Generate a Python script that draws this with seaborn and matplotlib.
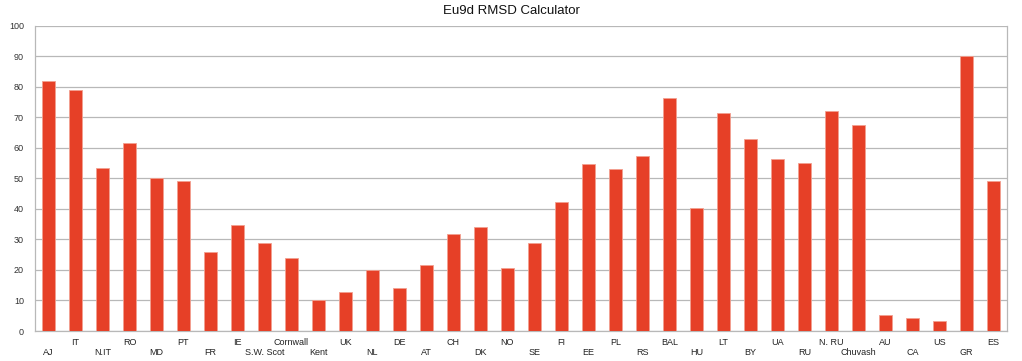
import matplotlib
matplotlib.use("Agg")
import matplotlib.pyplot as plt
import seaborn as sns
import numpy as np
import pandas as pd

categories = ["AJ", "IT", "N.IT", "RO", "MD", "PT", "FR", "IE", "S.W. Scot", "Cornwall",
              "Kent", "UK", "NL", "DE", "AT", "CH", "DK", "NO", "SE", "FI",
              "EE", "PL", "RS", "BAL", "HU", "LT", "BY", "UA", "RU", "N. RU",
              "Chuvash", "AU", "CA", "US", "GR", "ES"]
values = [81.7, 79.0, 53.5, 61.5, 50.0, 49.0, 25.8, 34.8, 28.8, 24.0,
          10.3, 12.7, 20.0, 14.2, 21.7, 31.6, 34.1, 20.7, 28.7, 42.2,
          54.8, 53.1, 57.2, 76.2, 40.4, 71.3, 62.8, 56.2, 54.9, 72.0,
          67.5, 5.3, 4.2, 3.2, 90.0, 49.0]
yticks = [0, 10, 20, 30, 40, 50, 60, 70, 80, 90, 100]
title = "Eu9d RMSD Calculator"

sns.set_style("white")
plt.rcParams['font.family'] = ['Liberation Sans', 'DejaVu Sans']

df = pd.DataFrame({"cat": categories, "val": values})
fig = plt.figure(figsize=(10.22, 3.61), dpi=100)
ax = fig.add_axes([0.0342, 0.0831, 0.951, 0.846])
sns.barplot(data=df, x="cat", y="val", color="#E64027", saturation=1, width=0.5,
            edgecolor="#F2A090", linewidth=0.6, ax=ax, zorder=3)

ax.set_ylim(0, 100)
ax.set_xlim(-0.5, len(categories) - 0.5)
ax.set_yticks(yticks)
ax.set_yticklabels([str(t) for t in yticks], fontsize=6.5, color="#333333")
ax.yaxis.grid(True, color="#B8B8B8", linewidth=0.9, zorder=0)
ax.set_axisbelow(True)

# category labels, staggered in two rows
ax.set_xticks(range(len(categories)))
ax.set_xticklabels([""] * len(categories))
ax.tick_params(axis='x', which='major', length=0)
for i, c in enumerate(categories):
    off = -15.3 if i % 2 == 0 else -8.0
    ax.annotate(c, xy=(i, 0), xycoords=('data', 'axes fraction'),
                xytext=(0, off), textcoords='offset points',
                ha='center', va='center', fontsize=6.5, color="#222222")

ax.set_xticks(np.arange(-0.5, len(categories), 1), minor=True)
ax.tick_params(axis='x', which='minor', length=4, color="#B8B8B8", width=0.9, direction='out')
ax.tick_params(axis='y', length=3, color="#B8B8B8", width=0.9, pad=5)

ax.set_xlabel("")
ax.set_ylabel("")
for s in ["left", "right", "bottom"]:
    ax.spines[s].set_visible(True)
    ax.spines[s].set_color("#B8B8B8")
    ax.spines[s].set_linewidth(0.9)
ax.spines["top"].set_visible(False)

fig.text(0.5, 0.985, title, ha="center", va="top", fontsize=9.5, color="#111111")

fig.savefig("out.png", dpi=100)
